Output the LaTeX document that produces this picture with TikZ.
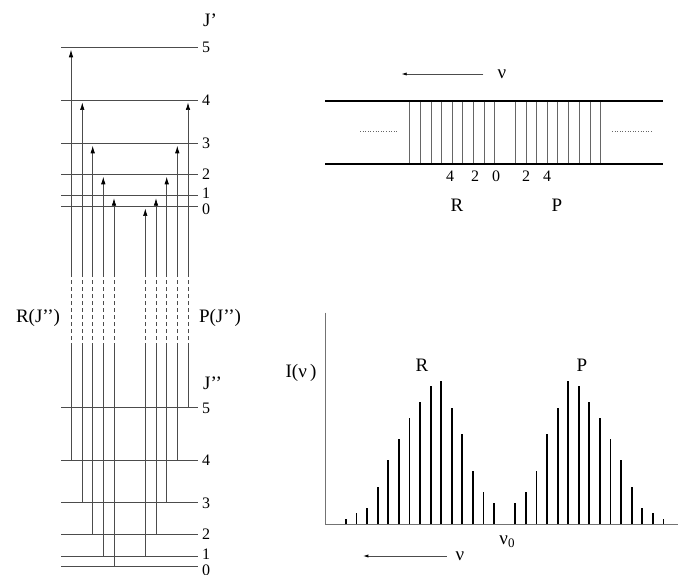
\documentclass[tikz,border=0pt]{standalone}
\usepackage{fontspec}
\setmainfont{Liberation Serif}
\usetikzlibrary{arrows.meta}
\begin{document}
\begin{tikzpicture}[x=1pt,y=-1pt,
  level/.style={black!70,line width=0.7pt},
  trans/.style={black!70,line width=0.7pt},
  dashpart/.style={black!70,line width=0.7pt,dash pattern=on 4pt off 3pt},
  tip/.style={-{Latex[length=7.5pt,width=4.5pt,black]}},
  numlab/.style={anchor=west,inner sep=0pt,font=\fontsize{16}{16}\selectfont},
  biglab/.style={inner sep=0pt,font=\fontsize{19}{19}\selectfont},
  band/.style={black,line width=1.8pt},
  vline/.style={black!60,line width=0.7pt},
  bar/.style={black,line width=1.8pt},
  axisline/.style={black!55,line width=0.8pt},
  dotline/.style={black!60,line width=0.5pt,dash pattern=on 1pt off 1.6pt},
  smalltip/.style={-{Latex[length=5pt,width=3.2pt,black]}}]
\useasboundingbox (0,0) rectangle (678,575);

% ---------- energy level diagram ----------
% upper levels J'
\foreach \j/\y/\ly in {5/47.3/47,4/100/100,3/143.3/143,2/174.3/174,1/195.7/193,0/206/209}{
  \coordinate (up\j) at (61,\y);
  \draw[level] (up\j) -- ++(137,0);
  \node[numlab] (uplab\j) at (202,\ly) {\j};
}
% lower levels J''
\foreach \j/\y/\ly in {5/407.7/408,4/460/460,3/502.7/503,2/534/534,1/556/554,0/566/570}{
  \coordinate (lo\j) at (61,\y);
  \draw[level] (lo\j) -- ++(137,0);
  \node[numlab] (lolab\j) at (202,\ly) {\j};
}
\node[biglab,anchor=west] (Jup) at (203,20) {J’};
\node[biglab,anchor=west] (Jlo) at (203,383) {J’’};
\node[biglab] (Rlab) at (38,318) {R(J’’)};
\node[biglab] (Plab) at (220,318) {P(J’’)};

% transitions: x / lower level / upper level
\foreach \name/\x/\lo/\hi in {R4/71/460/47.3, R3/82.3/502.7/100, R2/92.7/534/143.3,
                              R1/103.3/556/174.3, R0/114/566/195.7,
                              P1/145.3/556/206, P2/156/534/195.7, P3/166.7/502.7/174.3,
                              P4/177.3/460/143.3, P5/188/407.7/100}{
  \coordinate (\name s) at (\x,\lo);
  \coordinate (\name a) at (\x,347);
  \coordinate (\name b) at (\x,273);
  \coordinate (\name e) at (\x,\hi+2.5);
  \draw[trans] (\name s) -- (\name a);
  \draw[dashpart] (\name a) -- (\name b);
  \draw[trans,tip] (\name b) -- (\name e);
}

% ---------- spectrum band (top right) ----------
\coordinate (ta1) at (483.3,74);
\coordinate (ta2) at (401.7,74);
\draw[black!70,line width=0.7pt,smalltip] (ta1) -- (ta2);
\node[biglab] (nutop) at (502,74) {ν};
\draw[band] (325,100.7) -- (663.3,100.7);
\draw[band] (325,164.3) -- (663.3,164.3);
\foreach \x in {409.3,420.7,431.3,441.7,452.7,462.7,473.3,484,494.7,
                515.7,526.3,536.7,547,557.7,568.3,579.3,590,600}{
  \draw[vline] (\x,101.7) -- (\x,163.3);
}
\draw[dotline] (360,131) -- (398,131);
\draw[dotline] (612,131) -- (653,131);
\node[numlab,anchor=center] (n4l) at (450,176) {4};
\node[numlab,anchor=center] (n2l) at (475,176) {2};
\node[numlab,anchor=center] (n0) at (496,176) {0};
\node[numlab,anchor=center] (n2r) at (526,176) {2};
\node[numlab,anchor=center] (n4r) at (547,176) {4};
\node[biglab] (Rtop) at (457,205) {R};
\node[biglab] (Ptop) at (557,205) {P};

% ---------- intensity spectrum (bottom right) ----------
\coordinate (orig) at (325,524.3);
\draw[axisline] (325,312.7) -- (orig) -- (678,524.3);
\foreach \k/\t in {0/519,1/513.3,2/508,3/487.3,4/460.3,5/439,6/418,7/402,8/386.3,9/381,
                   10/408,11/434,12/471,13/492.3,14/503,
                   16/503,17/492.3,18/471,19/434,20/408,21/381,22/386.3,23/402,24/418,
                   25/439,26/460.3,27/487.3,28/508,29/513.3,30/519}{
  \draw[bar] (346+10.58*\k,524.3) -- (346+10.58*\k,\t);
}
\node[biglab] (Ilab) at (301,373) {I(ν\,)};
\node[biglab] (Rbot) at (422,365) {R};
\node[biglab] (Pbot) at (582,365) {P};
\node[biglab] (nu0) at (507,542) {ν\raisebox{-0.35ex}{\fontsize{13}{13}\selectfont 0}};
\coordinate (ba1) at (446.7,556);
\coordinate (ba2) at (363.3,556);
\draw[black!70,line width=0.7pt,smalltip] (ba1) -- (ba2);
\node[biglab] (nubot) at (460,556) {ν};
\end{tikzpicture}
\end{document}
